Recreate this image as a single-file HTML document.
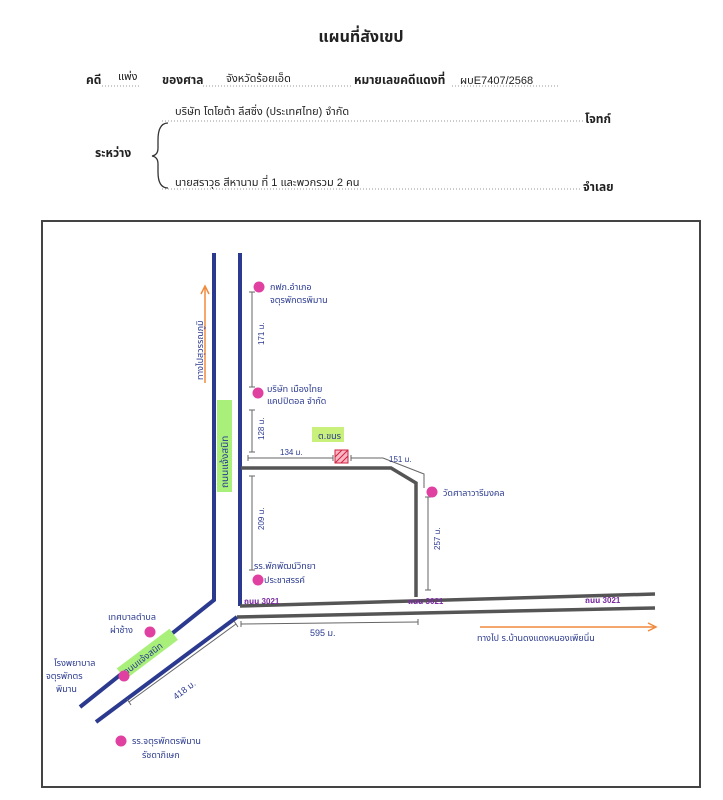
<!DOCTYPE html>
<html><head><meta charset="utf-8"><style>
body{margin:0;background:#fff;width:723px;height:800px;overflow:hidden;font-family:"Liberation Sans","Noto Sans Thai","Garuda",sans-serif;}
svg{position:absolute;left:0;top:0}
</style></head><body>
<svg width="723" height="800" viewBox="0 0 723 800" xmlns="http://www.w3.org/2000/svg" font-family="Liberation Sans, Noto Sans Thai, Garuda, sans-serif">
<text x="361" y="42" font-size="16" font-weight="bold" text-anchor="middle" fill="#222">แผนที่สังเขป</text>
<g font-size="12" fill="#222">
<text x="86" y="84" font-weight="bold">คดี</text><text x="118" y="80" font-size="11">แพ่ง</text>
<text x="162" y="84" font-weight="bold">ของศาล</text><text x="226" y="82" font-size="11">จังหวัดร้อยเอ็ด</text>
<text x="354" y="84" font-weight="bold">หมายเลขคดีแดงที่</text><text x="460" y="84" font-size="11">ผบE7407/2568</text>
<text x="175" y="115" font-size="11">บริษัท โตโยต้า ลีสซิ่ง (ประเทศไทย) จำกัด</text>
<text x="585" y="123" font-weight="bold">โจทก์</text>
<text x="95" y="157" font-weight="bold">ระหว่าง</text>
<text x="175" y="186" font-size="11">นายสราวุธ สีหานาม ที่ 1 และพวกรวม 2 คน</text>
<text x="583" y="191" font-weight="bold">จำเลย</text>
</g>
<g stroke="#999" stroke-dasharray="1 2" stroke-width="1">
<line x1="102" y1="86" x2="140" y2="86"/><line x1="203" y1="86" x2="352" y2="86"/><line x1="452" y1="86" x2="560" y2="86"/>
<line x1="162" y1="121" x2="583" y2="121"/><line x1="162" y1="189" x2="580" y2="189"/>
</g>
<path d="M168 123 Q158 123 158 140 L158 148 Q158 155 152 156 Q158 157 158 164 L158 172 Q158 188 168 188" fill="none" stroke="#333" stroke-width="1.3"/>
<rect x="42" y="221" width="658" height="566" fill="none" stroke="#444" stroke-width="2"/>
<!-- roads -->
<g fill="none" stroke="#2b3a8f" stroke-width="4">
<polyline points="214,253 214,600 80,707"/>
<polyline points="240,253 240,606"/>
<line x1="237" y1="617" x2="96" y2="722"/>
</g>
<g fill="none" stroke="#555" stroke-width="3.5">
<polyline points="240,606 655,594"/>
<line x1="237" y1="617" x2="655" y2="608"/>
<polyline points="241,468 391,468 416,483 416,597"/>
</g>
<!-- dimension lines -->
<g stroke="#666" stroke-width="1" fill="none">
<line x1="252" y1="292" x2="252" y2="387"/><line x1="249" y1="292" x2="255" y2="292"/><line x1="249" y1="387" x2="255" y2="387"/>
<line x1="252" y1="410" x2="252" y2="452"/><line x1="249" y1="410" x2="255" y2="410"/><line x1="249" y1="452" x2="255" y2="452"/>
<line x1="248" y1="458" x2="333" y2="458"/><line x1="248" y1="455" x2="248" y2="461"/><line x1="333" y1="455" x2="333" y2="461"/>
<polyline points="351,458 383,458 424,474 424,488"/><line x1="351" y1="455" x2="351" y2="461"/>
<line x1="252" y1="476" x2="252" y2="570"/><line x1="249" y1="476" x2="255" y2="476"/><line x1="249" y1="570" x2="255" y2="570"/>
<line x1="428" y1="497" x2="428" y2="590"/><line x1="425" y1="497" x2="431" y2="497"/><line x1="425" y1="590" x2="431" y2="590"/>
<line x1="241" y1="624" x2="418" y2="622"/><line x1="241" y1="621" x2="241" y2="627"/><line x1="418" y1="619" x2="418" y2="625"/>
<line x1="236" y1="624" x2="129" y2="702"/><line x1="234" y1="621" x2="238" y2="627"/><line x1="127" y1="699" x2="131" y2="705"/>
</g>
<!-- orange arrows -->
<g stroke="#f08a3c" stroke-width="1.5" fill="none">
<line x1="205" y1="383" x2="205" y2="287"/><polyline points="201,294 205,286 209,294"/>
<line x1="480" y1="627" x2="655" y2="627"/><polyline points="648,623 656,627 648,631"/>
</g>
<!-- green labels -->
<rect x="217" y="400" width="15" height="92" fill="#a8f07a"/>
<text transform="translate(228,488) rotate(-90)" font-size="10" fill="#2b3a8f">ถนนแจ้งสนิท</text>
<rect x="312" y="427" width="32" height="15" fill="#c8f07a"/>
<text x="318" y="439" font-size="9" fill="#2b3a8f">ต.ขนร</text>
<g transform="translate(124,678) rotate(-37)"><rect x="0" y="-12" width="66" height="14" fill="#a8f07a"/><text x="3" y="-1" font-size="9" fill="#2b3a8f">ถนนแจ้งสนิท</text></g>
<!-- red hatched -->
<rect x="335" y="450" width="13" height="13" fill="#f7b7c4" stroke="#d02040" stroke-width="1"/>
<g stroke="#d02040" stroke-width="1"><line x1="335" y1="457" x2="342" y2="450"/><line x1="335" y1="463" x2="348" y2="450"/><line x1="341" y1="463" x2="348" y2="456"/></g>
<!-- pink markers -->
<g fill="#e040a0"><circle cx="259" cy="287" r="5.5"/><circle cx="258" cy="393" r="5.5"/><circle cx="258" cy="580" r="5.5"/><circle cx="432" cy="492" r="5.5"/><circle cx="150" cy="632" r="5.5"/><circle cx="124" cy="676" r="5.5"/><circle cx="121" cy="741" r="5.5"/></g>
<g font-size="9" fill="#2b3a8f">
<text x="270" y="290">กฟภ.อำเภอ</text><text x="270" y="303">จตุรพักตรพิมาน</text>
<text x="267" y="392">บริษัท เมืองไทย</text><text x="267" y="404">แคปปิตอล จำกัด</text>
<text x="443" y="496">วัดศาลาวารีมงคล</text>
<text x="254" y="569">รร.พักพัฒน์วิทยา</text><text x="264" y="583">ประชาสรรค์</text>
<text x="108" y="620">เทศบาลตำบล</text><text x="110" y="633">ผ่าช้าง</text>
<text x="54" y="666">โรงพยาบาล</text><text x="46" y="679">จตุรพักตร</text><text x="56" y="692">พิมาน</text>
<text x="132" y="744">รร.จตุรพักตรพิมาน</text><text x="142" y="758">รัชดาภิเษก</text>
<text x="477" y="641">ทางไป ร.บ้านดงแดงหนองเพียนิ่น</text>
<text transform="translate(203,380) rotate(-90)">ทางไปสุวรรณภูมิ</text>
<text transform="translate(264,345) rotate(-90)" font-size="8">171 ม.</text>
<text transform="translate(264,440) rotate(-90)" font-size="8">128 ม.</text>
<text transform="translate(264,530) rotate(-90)" font-size="8">209 ม.</text>
<text transform="translate(440,550) rotate(-90)" font-size="8">257 ม.</text>
<text x="280" y="455" font-size="8">134 ม.</text><text x="389" y="462" font-size="8">151 ม.</text>
<text x="310" y="636" font-size="9">595 ม.</text>
<text transform="translate(176,700) rotate(-37)" font-size="9">418 ม.</text>
</g>
<g font-size="8" fill="#7a2aa0" font-weight="bold">
<text x="244" y="604">ถนน 3021</text><text x="408" y="604">ถนน 3021</text><text x="585" y="603">ถนน 3021</text>
</g>
</svg>
</body></html>
